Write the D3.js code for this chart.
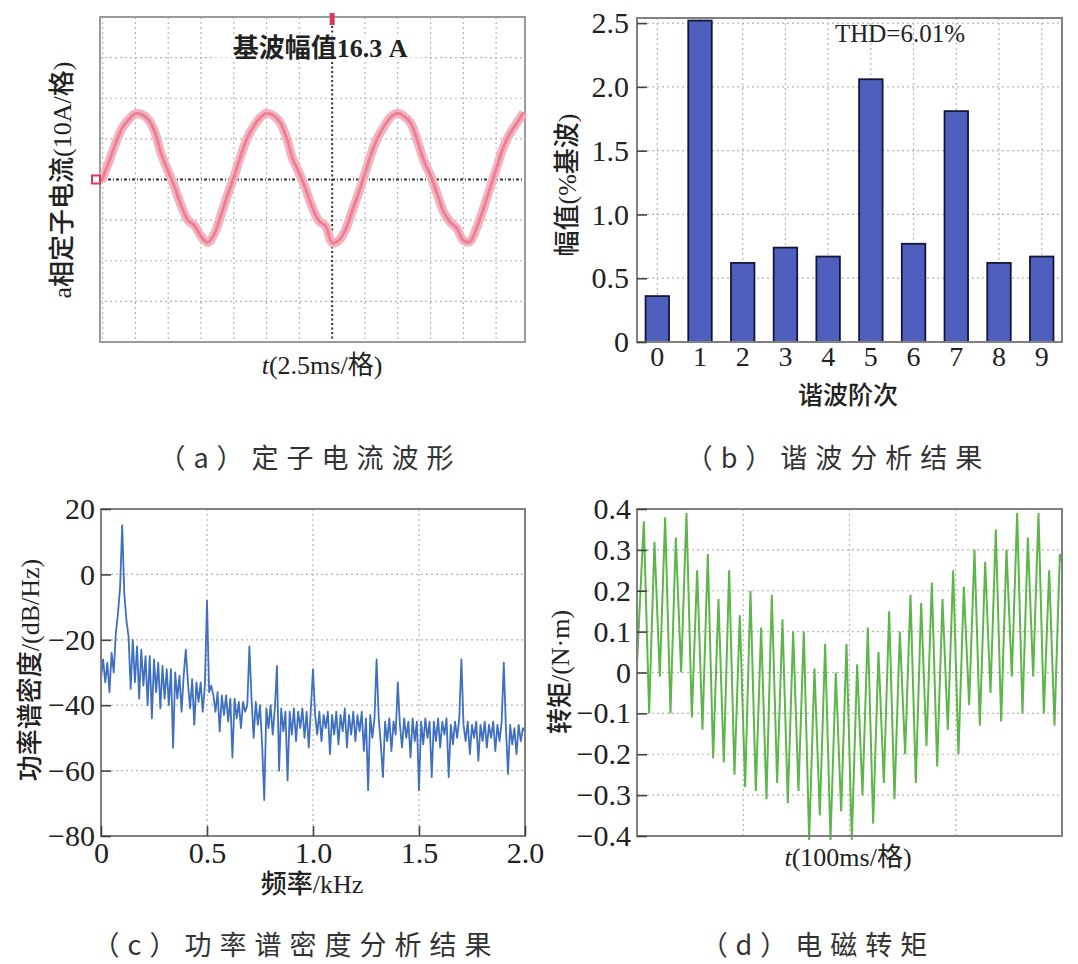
<!DOCTYPE html>
<html><head><meta charset="utf-8">
<script src="https://cdn.jsdelivr.net/npm/d3@7"></script>
<style>body{margin:0;background:#fff}svg{display:block}</style>
</head><body>
<svg id="c" width="1078" height="964"></svg>
<script>
// ---------- data ----------
// (a) stator current waveform: time (ms, 0 = centre graticule) and current (A)
const waveTimeMs = [-17.6,-17.0,-16.5,-16.0,-15.5,-15.0,-14.5,-14.0,-13.5,-13.0,-12.5,-12.0,-11.5,-11.0,-10.5,-10.0,-9.5,-9.0,-8.5,-8.0,
  -7.5,-7.0,-6.5,-6.0,-5.5,-5.0,-4.5,-4.0,-3.5,-3.0,-2.5,-2.0,-1.5,-1.0,-0.5,0.0,0.5,1.0,1.5,2.0,
  2.5,3.0,3.5,4.0,4.5,5.0,5.5,6.0,6.5,7.0,7.5,8.0,8.5,9.0,9.5,10.0,10.5,11.0,11.5,12.0,12.5,13.0,13.5,14.0,14.6];
const waveCurrentA = [-0.5,4.5,9,12.7,14.8,16.2,16,14.7,11.5,6,2,-2,-6.5,-10,-11.3,-14,-15.5,-13.5,-9,-4,
  0.5,5.5,10,13,15.2,16.3,15.8,14.2,10.5,5,1.5,-2.5,-7,-10.2,-11.5,-15.6,-15,-12.5,-8,-3.5,
  1.5,6.5,10.5,13.3,15.5,16.3,15.5,13.8,9.5,4.5,1,-3.5,-8,-10.5,-12,-15,-15.3,-12,-7.5,-2.5,2.5,7.5,11,13.5,16.5];
const waveGridMs = [-17.5,-15,-12.5,-10,-7.5,-5,-2.5,2.5,5,7.5,10,12.5];
const waveGridA = [-30,-20,-10,10,20,30];

// (b) harmonic analysis
const harmonicOrders = [0,1,2,3,4,5,6,7,8,9];
const harmonicPct = [0.36,2.52,0.62,0.74,0.67,2.06,0.77,1.81,0.62,0.67];
const harmonicTicks = [0,0.5,1.0,1.5,2.0,2.5];

// (c) power spectral density, 10 Hz per sample from 0 to 2 kHz (dB/Hz)
const psdStepKHz = 0.01;
const psdDb = [-32,-26,-33,-27,-36,-24,-30,-18,-12,-4,15,-6,-14,-19,-35,-20,-33,-22,-38,-23,
  -34,-25,-40,-25,-44,-26,-36,-27,-41,-28,-38,-29,-40,-29,-53,-30,-38,-31,-42,-31,
  -23,-33,-41,-32,-46,-33,-39,-33,-42,-34,-8,-36,-34,-37,-42,-36,-48,-37,-43,-37,
  -45,-38,-56,-38,-44,-39,-47,-39,-42,-40,-22,-38,-50,-39,-46,-40,-52,-69,-41,-47,
  -40,-49,-41,-28,-60,-41,-48,-42,-63,-42,-49,-41,-51,-42,-47,-41,-50,-42,-53,-41,
  -29,-43,-49,-42,-51,-43,-47,-42,-55,-43,-49,-42,-52,-43,-48,-41,-53,-43,-49,-42,
  -51,-43,-48,-42,-54,-44,-66,-43,-50,-44,-26,-44,-52,-62,-45,-51,-44,-54,-45,-49,
  -33,-46,-53,-44,-50,-45,-56,-44,-51,-45,-66,-45,-52,-44,-50,-45,-62,-45,-51,-44,
  -53,-45,-49,-44,-62,-46,-52,-45,-50,-44,-26,-46,-51,-45,-55,-46,-50,-45,-57,-46,
  -51,-45,-53,-46,-50,-45,-54,-46,-51,-45,-27,-47,-61,-46,-52,-47,-55,-46,-51,-47,-48];
const psdXTicks = [0,0.5,1.0,1.5,2.0];
const psdYTicks = [-80,-60,-40,-20,0,20];

// (d) electromagnetic torque: alternating peaks/troughs (N·m)
const torqueFirstMs = 6.4, torqueHalfPeriodMs = 5.02;
const torqueStartValue = 0.02, torqueEndValue = 0.27;
const torqueExtrema = [0.37,-0.10,0.32,-0.01,0.38,-0.10,0.33,0.00,0.39,-0.11,
  0.25,-0.14,0.29,-0.21,0.18,-0.22,0.25,-0.25,0.14,-0.28,
  0.20,-0.29,0.11,-0.31,0.19,-0.27,0.13,-0.32,0.10,-0.29,
  0.10,-0.41,0.01,-0.35,0.07,-0.41,0.00,-0.34,0.07,-0.41,
  0.02,-0.30,0.11,-0.37,0.05,-0.27,0.15,-0.31,0.10,-0.20,
  0.19,-0.27,0.17,-0.18,0.22,-0.23,0.18,-0.14,0.25,-0.20,
  0.21,-0.08,0.30,-0.13,0.27,-0.05,0.35,-0.12,0.30,-0.01,
  0.39,-0.10,0.33,-0.01,0.39,-0.10,0.25,-0.13,0.29];
const torqueYTicks = [-0.4,-0.3,-0.2,-0.1,0,0.1,0.2,0.3,0.4];
const torqueGridMs = [100,200,300];

// ---------- drawing ----------
const FNUM = "'Liberation Serif','Times New Roman',serif";
const FMIX = "'Liberation Serif','Noto Sans CJK SC',serif";
const FCJK = "'Noto Sans CJK SC',sans-serif";
const svg = d3.select("#c");
svg.append("rect").attr("width",1078).attr("height",964).attr("fill","#fff");

function grid(g, lines){
  g.selectAll(null).data(lines).enter().append("line")
    .attr("x1",d=>d[0]).attr("y1",d=>d[1]).attr("x2",d=>d[2]).attr("y2",d=>d[3])
    .attr("stroke","#b5b5b5").attr("stroke-width",1.2).attr("stroke-dasharray","2,3");
}
function frame(g,x0,y0,x1,y1,col){
  g.append("rect").attr("x",x0).attr("y",y0).attr("width",x1-x0).attr("height",y1-y0)
    .attr("fill","none").attr("stroke",col||"#808080").attr("stroke-width",2);
}
function styleAxis(g,size){
  g.select(".domain").remove();
  g.selectAll("text").attr("font-family",FNUM).attr("font-size",size).attr("fill","#222");
  g.selectAll("line").attr("stroke","#444").attr("stroke-width",1.6);
}
function vlabel(x,y,txt,size){
  svg.append("text").attr("transform",`translate(${x},${y}) rotate(-90)`)
    .attr("text-anchor","middle").attr("dominant-baseline","central")
    .attr("font-family",FMIX).attr("font-size",size).attr("font-weight",500)
    .attr("fill","#222").text(txt);
}
function caption(x,y,txt){
  svg.append("text").attr("x",x).attr("y",y).attr("text-anchor","middle")
    .attr("font-family",FCJK).attr("font-size",27).attr("letter-spacing",8)
    .attr("fill","#333").text(txt);
}

// ===== (a) =====
{
  const g = svg.append("g");
  const x = d3.scaleLinear().domain([-17.7,14.7]).range([100,525]);
  const y = d3.scaleLinear().domain([-40,40]).range([342,17]);
  grid(g, waveGridMs.map(t=>[x(t),17,x(t),342]));
  grid(g, waveGridA.map(a=>[100,y(a),525,y(a)]));
  g.append("line").attr("x1",x(0)).attr("x2",x(0)).attr("y1",17).attr("y2",342)
    .attr("stroke","#333").attr("stroke-width",2).attr("stroke-dasharray","2,2.5");
  g.append("line").attr("x1",100).attr("x2",525).attr("y1",y(0)).attr("y2",y(0))
    .attr("stroke","#333").attr("stroke-width",2).attr("stroke-dasharray","3,2,1,2");
  frame(g,100,17,525,342,"#9a9a9a");
  const line = d3.line().x((d,i)=>x(waveTimeMs[i])).y(d=>y(d)).curve(d3.curveCatmullRom);
  g.append("path").datum(waveCurrentA).attr("d",line).attr("fill","none")
    .attr("stroke","#f5b3c0").attr("stroke-width",9).attr("stroke-linejoin","round");
  g.append("path").datum(waveCurrentA).attr("d",line).attr("fill","none")
    .attr("stroke","#ea7f96").attr("stroke-width",3).attr("stroke-linejoin","round");
  g.append("rect").attr("x",x(0)-2.5).attr("y",13).attr("width",5).attr("height",12).attr("fill","#d8385a");
  g.append("rect").attr("x",92).attr("y",y(0)-4).attr("width",8).attr("height",8)
    .attr("fill","#fff").attr("stroke","#d8385a").attr("stroke-width",2);
  g.append("rect").attr("x",215).attr("y",34).attr("width",206).attr("height",28).attr("fill","#fff").attr("opacity",0.6);
  g.append("text").attr("x",x(0)-12).attr("y",57).attr("text-anchor","middle")
    .attr("font-family",FMIX).attr("font-size",26).attr("font-weight",600).attr("fill","#222")
    .text("基波幅值16.3 A");
  vlabel(62,180,"a相定子电流(10A/格)",26);
  const t = svg.append("text").attr("x",322).attr("y",374).attr("text-anchor","middle")
    .attr("font-family",FMIX).attr("font-size",26).attr("fill","#222");
  t.append("tspan").attr("font-style","italic").text("t");
  t.append("tspan").text("(2.5ms/格)");
  caption(310,468,"（a）定子电流波形");
}

// ===== (b) =====
{
  const g = svg.append("g");
  const x = d3.scaleBand().domain(harmonicOrders).range([637,1062]).paddingInner(0.45).paddingOuter(0.2);
  const y = d3.scaleLinear().domain([0,2.54]).range([342,18]);
  grid(g, harmonicTicks.filter(v=>v>0).map(v=>[637,y(v),1062,y(v)]));
  grid(g, harmonicOrders.map(o=>[x(o)+x.bandwidth()/2,18,x(o)+x.bandwidth()/2,342]));
  g.selectAll(".bar").data(harmonicPct).enter().append("rect")
    .attr("x",(d,i)=>x(harmonicOrders[i])).attr("y",d=>y(d))
    .attr("width",x.bandwidth()).attr("height",d=>y(0)-y(d))
    .attr("fill","#4f5fbd").attr("stroke","#15163a").attr("stroke-width",1.8);
  frame(g,637,18,1062,342);
  const ya = g.append("g").attr("transform","translate(637,0)")
    .call(d3.axisLeft(y).tickValues(harmonicTicks).tickSize(-10).tickPadding(8)
      .tickFormat(d=>d===0?"0":d3.format(".1f")(d)));
  styleAxis(ya,30);
  const xa = g.append("g").attr("transform","translate(0,342)")
    .call(d3.axisBottom(x).tickSize(0).tickPadding(4));
  styleAxis(xa,28);
  g.append("text").attr("x",900).attr("y",42).attr("text-anchor","middle")
    .attr("font-family",FNUM).attr("font-size",25).attr("fill","#222").text("THD=6.01%");
  vlabel(567,185,"幅值(%基波)",26);
  svg.append("text").attr("x",848).attr("y",404).attr("text-anchor","middle")
    .attr("font-family",FCJK).attr("font-size",25).attr("font-weight",500).attr("fill","#222").text("谐波阶次");
  caption(838,468,"（b）谐波分析结果");
}

// ===== (c) =====
{
  const g = svg.append("g");
  const x = d3.scaleLinear().domain([0,2]).range([101,525]);
  const y = d3.scaleLinear().domain([-80,20]).range([836,509]);
  grid(g, [-60,-40,-20,0].map(v=>[101,y(v),525,y(v)]));
  grid(g, [0.5,1.0,1.5].map(v=>[x(v),509,x(v),836]));
  const line = d3.line().x((d,i)=>x(i*psdStepKHz)).y(d=>y(d));
  g.append("path").datum(psdDb).attr("d",line).attr("fill","none")
    .attr("stroke","#3f6fc0").attr("stroke-width",1.8).attr("stroke-linejoin","round");
  frame(g,101,509,525,836);
  const ya = g.append("g").attr("transform","translate(101,0)")
    .call(d3.axisLeft(y).tickValues(psdYTicks).tickSize(-10).tickPadding(6));
  styleAxis(ya,30);
  const xa = g.append("g").attr("transform","translate(0,836)")
    .call(d3.axisBottom(x).tickValues(psdXTicks).tickSize(-10).tickPadding(6)
      .tickFormat(d=>d===0?"0":d3.format(".1f")(d)));
  styleAxis(xa,30);
  vlabel(30,670,"功率谱密度/(dB/Hz)",26);
  svg.append("text").attr("x",312).attr("y",893).attr("text-anchor","middle")
    .attr("font-family",FMIX).attr("font-size",26).attr("font-weight",500).attr("fill","#222").text("频率/kHz");
  caption(296,955,"（c）功率谱密度分析结果");
}

// ===== (d) =====
{
  const g = svg.append("g");
  const x = d3.scaleLinear().domain([0,400]).range([637,1062]);
  const y = d3.scaleLinear().domain([-0.4,0.4]).range([836,509]);
  grid(g, torqueYTicks.filter(v=>Math.abs(v)<0.35).map(v=>[637,y(v),1062,y(v)]));
  grid(g, torqueGridMs.map(v=>[x(v),509,x(v),836]));
  const pts = [[0,torqueStartValue]]
    .concat(torqueExtrema.map((v,i)=>[torqueFirstMs+i*torqueHalfPeriodMs,v]))
    .concat([[400,torqueEndValue]]);
  g.append("path").datum(pts).attr("d",d3.line().x(d=>x(d[0])).y(d=>y(d[1])))
    .attr("fill","none").attr("stroke","#5db649").attr("stroke-width",2);
  frame(g,637,509,1062,836);
  const ya = g.append("g").attr("transform","translate(637,0)")
    .call(d3.axisLeft(y).tickValues(torqueYTicks).tickSize(-10).tickPadding(6)
      .tickFormat(d=>Math.abs(d)<1e-9?"0":d3.format(".1f")(d)));
  styleAxis(ya,30);
  vlabel(560,672,"转矩/(N·m)",26);
  const t = svg.append("text").attr("x",848).attr("y",866).attr("text-anchor","middle")
    .attr("font-family",FMIX).attr("font-size",26).attr("fill","#222");
  t.append("tspan").attr("font-style","italic").text("t");
  t.append("tspan").text("(100ms/格)");
  caption(818,955,"（d）电磁转矩");
}
</script>
</body></html>
